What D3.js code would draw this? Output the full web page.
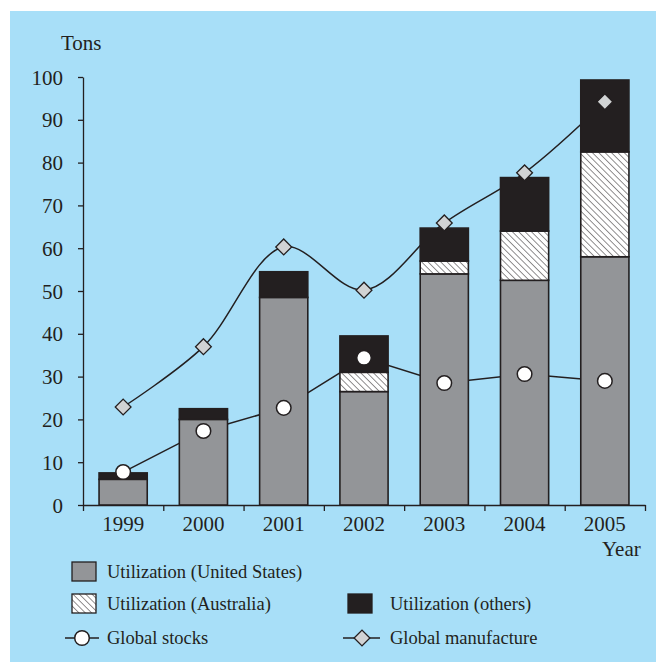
<!DOCTYPE html>
<html>
<head>
<meta charset="utf-8">
<script src="https://cdn.jsdelivr.net/npm/d3@7"></script>
<style>
  body { margin: 0; background: #fff; }
  text { font-family: "Liberation Serif", "Times New Roman", serif; fill: #231f20; }
</style>
</head>
<body>
<div id="chart"></div>
<script>
// data
var years = ["1999", "2000", "2001", "2002", "2003", "2004", "2005"];
var usUse = [6, 20, 48.5, 26.5, 54, 52.5, 58];
var auUse = [0, 0, 0, 4.5, 3, 11.5, 24.5];
var otherUse = [1.5, 2.5, 6, 8.5, 7.7, 12.5, 16.8];
var globalStocks = [7.7, 17.3, 22.7, 34.4, 28.5, 30.6, 29];
var globalManufacture = [22.9, 37, 60.3, 50.2, 65.9, 77.6, 94.2];
var yTicks = [0, 10, 20, 30, 40, 50, 60, 70, 80, 90, 100];

var width = 656, height = 662;
var ink = "#231f20";

var svg = d3.select("#chart").append("svg")
    .attr("width", width)
    .attr("height", height);

// pattern for the Australia hatch (lines running top-left to bottom-right)
var defs = svg.append("defs");
var pat = defs.append("pattern")
    .attr("id", "hatch")
    .attr("patternUnits", "userSpaceOnUse")
    .attr("width", 4.5).attr("height", 4.5)
    .attr("patternTransform", "rotate(-45)");
pat.append("rect").attr("width", 4.5).attr("height", 4.5).attr("fill", "#fff");
pat.append("line").attr("x1", 0).attr("y1", 0).attr("x2", 0).attr("y2", 4.5)
    .attr("stroke", ink).attr("stroke-width", 1);

// background panel
svg.append("rect")
    .attr("x", 10).attr("y", 11)
    .attr("width", width - 10).attr("height", height - 11)
    .attr("fill", "#a8dff8");

var x = d3.scaleBand().domain(years).range([83, 645]).paddingInner(0.4).paddingOuter(0.2);
var xEdge = d3.scaleLinear().domain([0, years.length]).range([83, 645]);
var y = d3.scaleLinear().domain([0, 100]).range([505, 77]);

// stack the three utilization series
var rows = years.map(function(yr, i) {
  return {year: yr, us: usUse[i], au: auUse[i], other: otherUse[i]};
});
var stack = d3.stack().keys(["us", "au", "other"])(rows);
var fills = {us: "#939598", au: "url(#hatch)", other: ink};

// y axis
var yAxis = d3.axisLeft(y).tickValues(yTicks).tickSize(5).tickSizeOuter(0).tickPadding(15);
var gy = svg.append("g").attr("transform", "translate(83,0)").call(yAxis);
gy.selectAll("text").style("font-size", "21px").attr("dy", "0.34em");
gy.selectAll("line, path").attr("stroke", ink).attr("stroke-width", 1.3);

// x axis: ticks at band edges, labels centred
var xAxis = d3.axisBottom(xEdge).ticks(years.length).tickSize(6).tickSizeOuter(0).tickFormat("");
var gx = svg.append("g").attr("transform", "translate(0,505)").call(xAxis);
gx.selectAll("line, path").attr("stroke", ink).attr("stroke-width", 1.3);
svg.selectAll(".yearLabel").data(years).enter().append("text")
    .attr("x", function(d) { return x(d) + x.bandwidth() / 2; })
    .attr("y", 531)
    .attr("text-anchor", "middle")
    .style("font-size", "21px")
    .text(function(d) { return d; });

svg.append("text").attr("x", 61).attr("y", 50).style("font-size", "21px").text("Tons");
svg.append("text").attr("x", 602).attr("y", 556).style("font-size", "21px").text("Year");

var cx = function(d, i) { return x(years[i]) + x.bandwidth() / 2; };

// lines go under the bars
var manuLine = d3.line().x(cx).y(function(d) { return y(d); }).curve(d3.curveCatmullRom.alpha(0.5));
var stockLine = d3.line().x(cx).y(function(d) { return y(d); });
svg.append("path").attr("d", manuLine(globalManufacture))
    .attr("fill", "none").attr("stroke", ink).attr("stroke-width", 1.5);
svg.append("path").attr("d", stockLine(globalStocks))
    .attr("fill", "none").attr("stroke", ink).attr("stroke-width", 1.5);

// bars
stack.forEach(function(layer) {
  svg.append("g").selectAll("rect").data(layer.filter(function(d) { return d[1] - d[0] > 0; }))
    .enter().append("rect")
      .attr("x", function(d) { return x(d.data.year); })
      .attr("width", x.bandwidth())
      .attr("y", function(d) { return y(d[1]); })
      .attr("height", function(d) { return y(d[0]) - y(d[1]); })
      .attr("fill", fills[layer.key])
      .attr("stroke", ink)
      .attr("stroke-width", 1.6);
});

// markers on top
var diamond = d3.symbol().type(d3.symbolSquare).size(125);
svg.selectAll(".manu").data(globalManufacture).enter().append("path")
    .attr("d", diamond)
    .attr("transform", function(d, i) { return "translate(" + cx(d, i) + "," + y(d) + ") rotate(45)"; })
    .attr("fill", "#d1d3d4").attr("stroke", ink).attr("stroke-width", 1.3);
svg.selectAll(".stock").data(globalStocks).enter().append("circle")
    .attr("cx", cx)
    .attr("cy", function(d) { return y(d); })
    .attr("r", 7.3)
    .attr("fill", "#fff").attr("stroke", ink).attr("stroke-width", 1.5);

// legend
var legend = svg.append("g");
var boxes = [
  {x: 72, y: 562, fill: "#939598", label: "Utilization (United States)"},
  {x: 72, y: 594, fill: "url(#hatch)", label: "Utilization (Australia)"},
  {x: 348, y: 594, fill: ink, label: "Utilization (others)"}
];
boxes.forEach(function(b) {
  legend.append("rect").attr("x", b.x).attr("y", b.y).attr("width", 24).attr("height", 19)
      .attr("fill", b.fill).attr("stroke", ink).attr("stroke-width", 1.3);
  legend.append("text").attr("x", b.x + (b.x < 100 ? 35 : 42)).attr("y", b.y + 16)
      .style("font-size", "18.5px").text(b.label);
});
// line keys
legend.append("line").attr("x1", 65).attr("x2", 99).attr("y1", 638).attr("y2", 638)
    .attr("stroke", ink).attr("stroke-width", 1.5);
legend.append("circle").attr("cx", 82).attr("cy", 638).attr("r", 7.3)
    .attr("fill", "#fff").attr("stroke", ink).attr("stroke-width", 1.5);
legend.append("text").attr("x", 107).attr("y", 644).style("font-size", "18.5px").text("Global stocks");
legend.append("line").attr("x1", 343).attr("x2", 380).attr("y1", 638).attr("y2", 638)
    .attr("stroke", ink).attr("stroke-width", 1.5);
legend.append("path").attr("d", diamond)
    .attr("transform", "translate(362,638) rotate(45)")
    .attr("fill", "#d1d3d4").attr("stroke", ink).attr("stroke-width", 1.3);
legend.append("text").attr("x", 390).attr("y", 644).style("font-size", "18.5px").text("Global manufacture");
</script>
</body>
</html>
